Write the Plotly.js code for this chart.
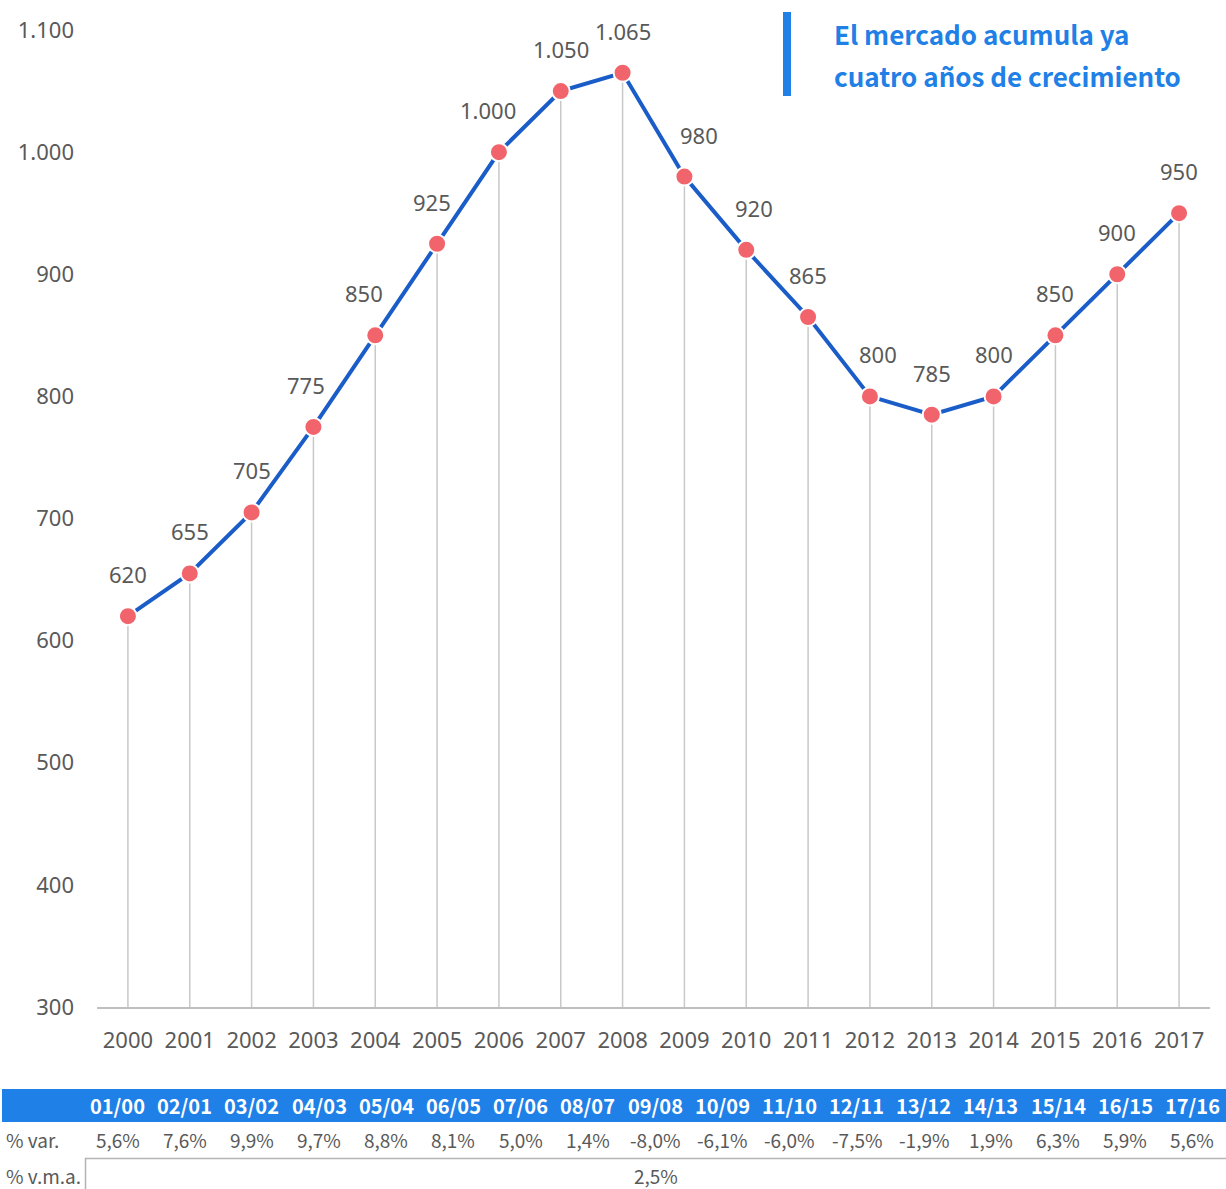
<!DOCTYPE html>
<html><head><meta charset="utf-8">
<script src="https://cdn.plot.ly/plotly-3.0.1.min.js"></script>
<style>body{margin:0;background:#fff}#c{width:1226px;height:1189px}</style>
</head><body><div id="c"></div>
<script>
const years = ['2000','2001','2002','2003','2004','2005','2006','2007','2008','2009','2010','2011','2012','2013','2014','2015','2016','2017'];
const values = [620,655,705,775,850,925,1000,1050,1065,980,920,865,800,785,800,850,900,950];
const periods = ['01/00','02/01','03/02','04/03','05/04','06/05','07/06','08/07','09/08','10/09','11/10','12/11','13/12','14/13','15/14','16/15','17/16'];
const varPct = ['5,6%','7,6%','9,9%','9,7%','8,8%','8,1%','5,0%','1,4%','-8,0%','-6,1%','-6,0%','-7,5%','-1,9%','1,9%','6,3%','5,9%','5,6%'];
const vmaLabel = '2,5%';
const rowLabels = ['% var.','% v.m.a.'];
const noteLines = ['El mercado acumula ya','cuatro años de crecimiento'];
const yMin = 300, yMax = 1100;

const FONT_T = '"Noto Sans CJK JP", "Noto Sans", sans-serif';
const FONT_A = '"Noto Sans", "DejaVu Sans", sans-serif';
const GRAY = '#595959';
const BLUE_HDR = '#1f80e8';

// pixel -> paper helpers (plot area: x 97..1210, y 30..1007)
const L = 97, R = 1210, T = 30, B = 1007;
const px = x => (x - L) / (R - L);
const py = y => (B - y) / (B - T);

// small horizontal nudges of the value labels (pixels), as placed in the original
const labelNudge = [0,0,0,-7,-11,-5,-11,0,0,15,8,0,8,0,0,0,0,0];

function fmt(v){ return String(v).replace(/\B(?=(\d{3})+(?!\d))/g, '.'); }

const traces = [{
  type:'scatter', mode:'lines+markers', x: years, y: values,
  line:{color:'#1a5cc8', width:4},
  marker:{size:18, color:'#f2646c', line:{color:'#ffffff', width:2}},
  error_y:{type:'data', symmetric:false, array: values.map(()=>0), arrayminus: values.map(v=>v-yMin), color:'#c8c8c8', thickness:1.5, width:0},
  hoverinfo:'skip', cliponaxis:false
}];

const annotations = [];
years.forEach((yr,i)=>{
  annotations.push({x: i, y: values[i], xref:'x', yref:'y', text: fmt(values[i]), showarrow:false, yshift:42, xshift:labelNudge[i], font:{family:FONT_A, size:22, color:GRAY}});
});
// note
noteLines.forEach((t,k)=>{
  annotations.push({xref:'paper', yref:'paper', x: px(832), y: py(33 + 42*k), xanchor:'left', yanchor:'middle', text:'<b>'+t+'</b>', align:'left', showarrow:false, font:{family:FONT_T, size:26, color:'#2080e6'}});
});

// table
const colStart = 84, colW = (1226-84)/17;
periods.forEach((p,i)=>{
  const cx = colStart + colW*(i+0.5);
  annotations.push({xref:'paper', yref:'paper', x: px(cx), y: py(1105), xanchor:'center', yanchor:'middle', text:'<b>'+p+'</b>', showarrow:false, font:{family:FONT_T, size:20, color:'#ffffff'}});
  annotations.push({xref:'paper', yref:'paper', x: px(cx), y: py(1139), xanchor:'center', yanchor:'middle', text: varPct[i], showarrow:false, font:{family:FONT_T, size:19, color:GRAY}});
});
annotations.push({xref:'paper', yref:'paper', x: px(4), y: py(1139), xanchor:'left', yanchor:'middle', text: rowLabels[0], showarrow:false, font:{family:FONT_T, size:19, color:GRAY}});
annotations.push({xref:'paper', yref:'paper', x: px(4), y: py(1175), xanchor:'left', yanchor:'middle', text: rowLabels[1], showarrow:false, font:{family:FONT_T, size:19, color:GRAY}});
annotations.push({xref:'paper', yref:'paper', x: px(656), y: py(1175), xanchor:'center', yanchor:'middle', text: vmaLabel, showarrow:false, font:{family:FONT_T, size:19, color:GRAY}});

const shapes = [
  {type:'rect', xref:'paper', yref:'paper', x0:px(2), x1:px(1226), y0:py(1089), y1:py(1122), fillcolor:BLUE_HDR, line:{width:0}, layer:'below'},
  {type:'rect', xref:'paper', yref:'paper', x0:px(85.5), x1:px(1230), y0:py(1158.5), y1:py(1195), fillcolor:'rgba(0,0,0,0)', line:{color:'#b4b4b4', width:1.5}},
  {type:'rect', xref:'paper', yref:'paper', x0:px(783), x1:px(791), y0:py(12), y1:py(96), fillcolor:'#2080e6', line:{width:0}}
];

const layout = {
  width:1226, height:1189,
  margin:{l:L, r:1226-R, t:T, b:1189-B},
  paper_bgcolor:'#fff', plot_bgcolor:'#fff',
  separators:',.',
  showlegend:false,
  font:{family:FONT_A, color:GRAY},
  xaxis:{type:'category', range:[-0.5,17.5], showgrid:false, zeroline:false, showline:true, linecolor:'#bfbfbf', linewidth:1.5, ticks:'', tickfont:{family:FONT_A, size:22, color:GRAY}, ticklabelstandoff:13, fixedrange:true},
  yaxis:{range:[yMin,yMax], dtick:100, tickformat:',', showgrid:false, zeroline:false, showline:false, ticks:'', tickfont:{family:FONT_A, size:22, color:GRAY}, ticklabelstandoff:22, fixedrange:true},
  annotations, shapes
};

Plotly.newPlot('c', traces, layout, {displayModeBar:false, staticPlot:true});
</script></body></html>
